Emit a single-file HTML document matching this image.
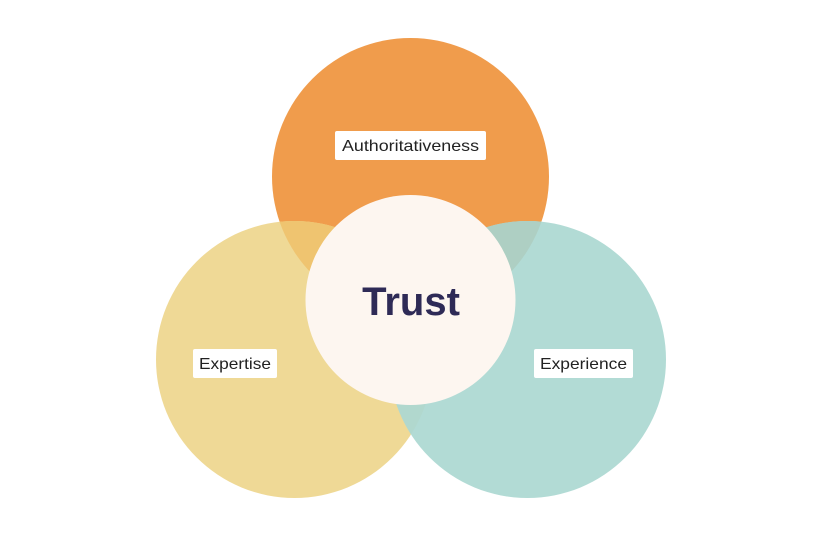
<!DOCTYPE html>
<html><head><meta charset="utf-8"><style>
html,body{margin:0;padding:0;background:#fff;width:820px;height:544px;overflow:hidden}
</style></head><body>
<svg width="820" height="544" viewBox="0 0 820 544" xmlns="http://www.w3.org/2000/svg">
<defs>
<clipPath id="co"><circle cx="410.5" cy="176.5" r="138.5"/></clipPath>
<clipPath id="cy"><circle cx="294.5" cy="359.5" r="138.5"/></clipPath>
</defs>
<circle cx="410.5" cy="176.5" r="138.5" fill="#f09c4c"/>
<circle cx="294.5" cy="359.5" r="138.5" fill="#efd996"/>
<circle cx="527.5" cy="359.5" r="138.5" fill="#b2dbd5"/>
<circle cx="294.5" cy="359.5" r="138.5" fill="#efc470" clip-path="url(#co)"/>
<circle cx="527.5" cy="359.5" r="138.5" fill="#aecfc3" clip-path="url(#co)"/>
<circle cx="527.5" cy="359.5" r="138.5" fill="#b1d8ce" clip-path="url(#cy)"/>
<circle cx="410.5" cy="300" r="105" fill="#fdf6f0"/>
<text x="411" y="315" text-anchor="middle" font-family="Liberation Sans, sans-serif" font-weight="bold" font-size="40" fill="#2e2a56">Trust</text>
<rect x="335" y="131" width="151" height="29" rx="2" fill="#fff"/>
<text x="342" y="151" textLength="137" lengthAdjust="spacingAndGlyphs" font-family="Liberation Sans, sans-serif" font-size="16" fill="#222">Authoritativeness</text>
<rect x="193" y="349" width="84" height="29" rx="2" fill="#fff"/>
<text x="199" y="369" textLength="72" lengthAdjust="spacingAndGlyphs" font-family="Liberation Sans, sans-serif" font-size="16" fill="#222">Expertise</text>
<rect x="534" y="349" width="99" height="29" rx="2" fill="#fff"/>
<text x="540" y="369" textLength="87" lengthAdjust="spacingAndGlyphs" font-family="Liberation Sans, sans-serif" font-size="16" fill="#222">Experience</text>
</svg>
</body></html>
